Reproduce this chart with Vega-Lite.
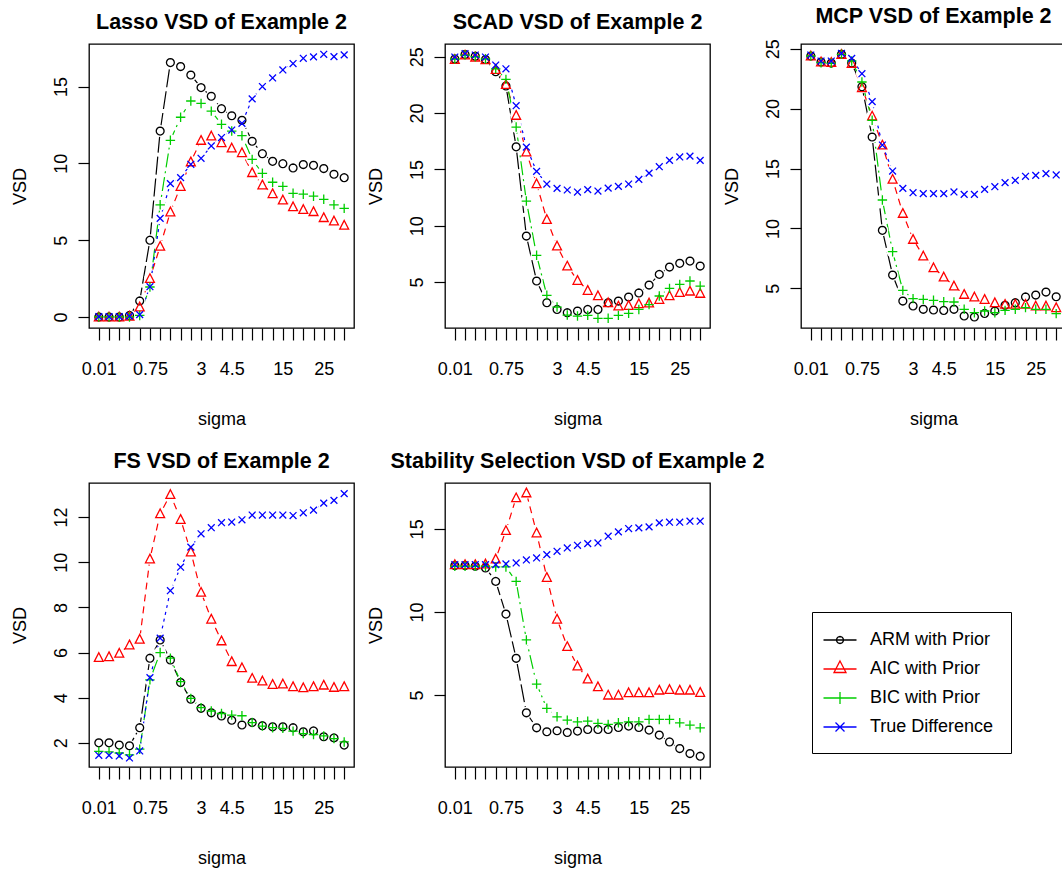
{
"$schema": "https://vega.github.io/schema/vega-lite/v6.json",
"padding": {"left": 10, "top": 5, "right": 0, "bottom": 0},
"background": "white",
"datasets": {"d": [
{"p":"Lasso","i":1,"ARM with Prior":0,"AIC with Prior":0,"BIC with Prior":0,"True Difference":0.02},
{"p":"Lasso","i":2,"ARM with Prior":0,"AIC with Prior":0,"BIC with Prior":0,"True Difference":0.02},
{"p":"Lasso","i":3,"ARM with Prior":0,"AIC with Prior":0,"BIC with Prior":0,"True Difference":0.02},
{"p":"Lasso","i":4,"ARM with Prior":0.1,"AIC with Prior":0.05,"BIC with Prior":0,"True Difference":0.05},
{"p":"Lasso","i":5,"ARM with Prior":1.04,"AIC with Prior":0.65,"BIC with Prior":0.1,"True Difference":0.15},
{"p":"Lasso","i":6,"ARM with Prior":5.0,"AIC with Prior":2.5,"BIC with Prior":1.95,"True Difference":1.97},
{"p":"Lasso","i":7,"ARM with Prior":12.1,"AIC with Prior":4.6,"BIC with Prior":7.3,"True Difference":6.42},
{"p":"Lasso","i":8,"ARM with Prior":16.56,"AIC with Prior":6.84,"BIC with Prior":11.5,"True Difference":8.68},
{"p":"Lasso","i":9,"ARM with Prior":16.3,"AIC with Prior":8.5,"BIC with Prior":13.0,"True Difference":9.07},
{"p":"Lasso","i":10,"ARM with Prior":15.75,"AIC with Prior":10.1,"BIC with Prior":14.06,"True Difference":9.94},
{"p":"Lasso","i":11,"ARM with Prior":14.93,"AIC with Prior":11.5,"BIC with Prior":13.9,"True Difference":10.33},
{"p":"Lasso","i":12,"ARM with Prior":14.37,"AIC with Prior":11.78,"BIC with Prior":13.4,"True Difference":11.13},
{"p":"Lasso","i":13,"ARM with Prior":13.56,"AIC with Prior":11.35,"BIC with Prior":12.54,"True Difference":11.68},
{"p":"Lasso","i":14,"ARM with Prior":13.1,"AIC with Prior":11.0,"BIC with Prior":12.1,"True Difference":12.17},
{"p":"Lasso","i":15,"ARM with Prior":12.8,"AIC with Prior":10.7,"BIC with Prior":11.8,"True Difference":12.6},
{"p":"Lasso","i":16,"ARM with Prior":11.44,"AIC with Prior":9.4,"BIC with Prior":10.26,"True Difference":14.2},
{"p":"Lasso","i":17,"ARM with Prior":10.63,"AIC with Prior":8.6,"BIC with Prior":9.35,"True Difference":15.0},
{"p":"Lasso","i":18,"ARM with Prior":10.13,"AIC with Prior":8.03,"BIC with Prior":8.77,"True Difference":15.56},
{"p":"Lasso","i":19,"ARM with Prior":9.98,"AIC with Prior":7.62,"BIC with Prior":8.5,"True Difference":16.08},
{"p":"Lasso","i":20,"ARM with Prior":9.7,"AIC with Prior":7.18,"BIC with Prior":8.05,"True Difference":16.5},
{"p":"Lasso","i":21,"ARM with Prior":9.92,"AIC with Prior":7.0,"BIC with Prior":7.99,"True Difference":16.84},
{"p":"Lasso","i":22,"ARM with Prior":9.87,"AIC with Prior":6.86,"BIC with Prior":7.86,"True Difference":16.93},
{"p":"Lasso","i":23,"ARM with Prior":9.66,"AIC with Prior":6.47,"BIC with Prior":7.66,"True Difference":17.1},
{"p":"Lasso","i":24,"ARM with Prior":9.29,"AIC with Prior":6.25,"BIC with Prior":7.3,"True Difference":16.95},
{"p":"Lasso","i":25,"ARM with Prior":9.07,"AIC with Prior":5.97,"BIC with Prior":7.07,"True Difference":17.06},
{"p":"SCAD","i":1,"ARM with Prior":24.8,"AIC with Prior":24.76,"BIC with Prior":24.8,"True Difference":24.97},
{"p":"SCAD","i":2,"ARM with Prior":25.2,"AIC with Prior":25.15,"BIC with Prior":25.15,"True Difference":25.27},
{"p":"SCAD","i":3,"ARM with Prior":25.05,"AIC with Prior":24.97,"BIC with Prior":25.0,"True Difference":25.15},
{"p":"SCAD","i":4,"ARM with Prior":24.76,"AIC with Prior":24.73,"BIC with Prior":24.8,"True Difference":24.97},
{"p":"SCAD","i":5,"ARM with Prior":23.67,"AIC with Prior":23.88,"BIC with Prior":23.93,"True Difference":24.26},
{"p":"SCAD","i":6,"ARM with Prior":22.4,"AIC with Prior":22.54,"BIC with Prior":22.99,"True Difference":23.93},
{"p":"SCAD","i":7,"ARM with Prior":17.0,"AIC with Prior":19.8,"BIC with Prior":18.76,"True Difference":20.65},
{"p":"SCAD","i":8,"ARM with Prior":9.08,"AIC with Prior":16.54,"BIC with Prior":12.19,"True Difference":16.98},
{"p":"SCAD","i":9,"ARM with Prior":5.09,"AIC with Prior":13.73,"BIC with Prior":7.37,"True Difference":14.82},
{"p":"SCAD","i":10,"ARM with Prior":3.17,"AIC with Prior":10.56,"BIC with Prior":3.82,"True Difference":13.7},
{"p":"SCAD","i":11,"ARM with Prior":2.57,"AIC with Prior":8.2,"BIC with Prior":2.78,"True Difference":13.31},
{"p":"SCAD","i":12,"ARM with Prior":2.28,"AIC with Prior":6.42,"BIC with Prior":2.07,"True Difference":13.17},
{"p":"SCAD","i":13,"ARM with Prior":2.43,"AIC with Prior":5.15,"BIC with Prior":1.98,"True Difference":12.99},
{"p":"SCAD","i":14,"ARM with Prior":2.57,"AIC with Prior":4.26,"BIC with Prior":2.04,"True Difference":13.2},
{"p":"SCAD","i":15,"ARM with Prior":2.57,"AIC with Prior":3.79,"BIC with Prior":1.78,"True Difference":13.08},
{"p":"SCAD","i":16,"ARM with Prior":3.17,"AIC with Prior":3.17,"BIC with Prior":1.78,"True Difference":13.34},
{"p":"SCAD","i":17,"ARM with Prior":3.31,"AIC with Prior":2.87,"BIC with Prior":2.04,"True Difference":13.49},
{"p":"SCAD","i":18,"ARM with Prior":3.67,"AIC with Prior":2.93,"BIC with Prior":2.22,"True Difference":13.7},
{"p":"SCAD","i":19,"ARM with Prior":4.03,"AIC with Prior":3.08,"BIC with Prior":2.57,"True Difference":14.11},
{"p":"SCAD","i":20,"ARM with Prior":4.73,"AIC with Prior":3.14,"BIC with Prior":3.0,"True Difference":14.67},
{"p":"SCAD","i":21,"ARM with Prior":5.68,"AIC with Prior":3.46,"BIC with Prior":3.76,"True Difference":15.24},
{"p":"SCAD","i":22,"ARM with Prior":6.33,"AIC with Prior":3.79,"BIC with Prior":4.44,"True Difference":15.8},
{"p":"SCAD","i":23,"ARM with Prior":6.66,"AIC with Prior":4.08,"BIC with Prior":4.79,"True Difference":16.1},
{"p":"SCAD","i":24,"ARM with Prior":6.86,"AIC with Prior":4.2,"BIC with Prior":5.09,"True Difference":16.18},
{"p":"SCAD","i":25,"ARM with Prior":6.42,"AIC with Prior":4.0,"BIC with Prior":4.64,"True Difference":15.8},
{"p":"MCP","i":1,"ARM with Prior":24.39,"AIC with Prior":24.39,"BIC with Prior":24.39,"True Difference":24.47},
{"p":"MCP","i":2,"ARM with Prior":23.89,"AIC with Prior":23.9,"BIC with Prior":23.83,"True Difference":23.97},
{"p":"MCP","i":3,"ARM with Prior":23.8,"AIC with Prior":23.86,"BIC with Prior":23.78,"True Difference":23.97},
{"p":"MCP","i":4,"ARM with Prior":24.53,"AIC with Prior":24.53,"BIC with Prior":24.53,"True Difference":24.61},
{"p":"MCP","i":5,"ARM with Prior":23.8,"AIC with Prior":23.78,"BIC with Prior":23.97,"True Difference":24.19},
{"p":"MCP","i":6,"ARM with Prior":21.83,"AIC with Prior":21.75,"BIC with Prior":22.22,"True Difference":22.91},
{"p":"MCP","i":7,"ARM with Prior":17.63,"AIC with Prior":19.38,"BIC with Prior":19.02,"True Difference":20.58},
{"p":"MCP","i":8,"ARM with Prior":9.84,"AIC with Prior":16.96,"BIC with Prior":12.37,"True Difference":16.96},
{"p":"MCP","i":9,"ARM with Prior":6.11,"AIC with Prior":14.1,"BIC with Prior":8.06,"True Difference":14.79},
{"p":"MCP","i":10,"ARM with Prior":3.94,"AIC with Prior":11.26,"BIC with Prior":4.83,"True Difference":13.34},
{"p":"MCP","i":11,"ARM with Prior":3.53,"AIC with Prior":9.09,"BIC with Prior":4.14,"True Difference":12.98},
{"p":"MCP","i":12,"ARM with Prior":3.25,"AIC with Prior":7.7,"BIC with Prior":4.08,"True Difference":12.9},
{"p":"MCP","i":13,"ARM with Prior":3.19,"AIC with Prior":6.72,"BIC with Prior":4.0,"True Difference":12.9},
{"p":"MCP","i":14,"ARM with Prior":3.16,"AIC with Prior":5.95,"BIC with Prior":3.89,"True Difference":12.9},
{"p":"MCP","i":15,"ARM with Prior":3.25,"AIC with Prior":5.2,"BIC with Prior":3.86,"True Difference":13.04},
{"p":"MCP","i":16,"ARM with Prior":2.69,"AIC with Prior":4.5,"BIC with Prior":3.25,"True Difference":12.84},
{"p":"MCP","i":17,"ARM with Prior":2.61,"AIC with Prior":4.28,"BIC with Prior":2.97,"True Difference":12.84},
{"p":"MCP","i":18,"ARM with Prior":2.91,"AIC with Prior":4.08,"BIC with Prior":3.11,"True Difference":13.26},
{"p":"MCP","i":19,"ARM with Prior":3.11,"AIC with Prior":3.8,"BIC with Prior":2.97,"True Difference":13.48},
{"p":"MCP","i":20,"ARM with Prior":3.58,"AIC with Prior":3.67,"BIC with Prior":3.16,"True Difference":13.82},
{"p":"MCP","i":21,"ARM with Prior":3.8,"AIC with Prior":3.67,"BIC with Prior":3.25,"True Difference":14.01},
{"p":"MCP","i":22,"ARM with Prior":4.28,"AIC with Prior":3.67,"BIC with Prior":3.39,"True Difference":14.35},
{"p":"MCP","i":23,"ARM with Prior":4.44,"AIC with Prior":3.53,"BIC with Prior":3.25,"True Difference":14.43},
{"p":"MCP","i":24,"ARM with Prior":4.69,"AIC with Prior":3.53,"BIC with Prior":3.25,"True Difference":14.57},
{"p":"MCP","i":25,"ARM with Prior":4.3,"AIC with Prior":3.39,"BIC with Prior":2.89,"True Difference":14.46},
{"p":"FS","i":1,"ARM with Prior":2.0,"AIC with Prior":5.78,"BIC with Prior":1.62,"True Difference":1.45},
{"p":"FS","i":2,"ARM with Prior":2.0,"AIC with Prior":5.82,"BIC with Prior":1.6,"True Difference":1.45},
{"p":"FS","i":3,"ARM with Prior":1.9,"AIC with Prior":5.97,"BIC with Prior":1.55,"True Difference":1.42},
{"p":"FS","i":4,"ARM with Prior":1.87,"AIC with Prior":6.34,"BIC with Prior":1.47,"True Difference":1.33},
{"p":"FS","i":5,"ARM with Prior":2.67,"AIC with Prior":6.59,"BIC with Prior":1.72,"True Difference":1.64},
{"p":"FS","i":6,"ARM with Prior":5.75,"AIC with Prior":10.15,"BIC with Prior":4.79,"True Difference":4.89},
{"p":"FS","i":7,"ARM with Prior":6.56,"AIC with Prior":12.15,"BIC with Prior":6.0,"True Difference":6.64},
{"p":"FS","i":8,"ARM with Prior":5.67,"AIC with Prior":13.0,"BIC with Prior":5.75,"True Difference":8.74},
{"p":"FS","i":9,"ARM with Prior":4.67,"AIC with Prior":11.9,"BIC with Prior":4.71,"True Difference":9.78},
{"p":"FS","i":10,"ARM with Prior":3.93,"AIC with Prior":10.46,"BIC with Prior":3.97,"True Difference":10.67},
{"p":"FS","i":11,"ARM with Prior":3.53,"AIC with Prior":8.67,"BIC with Prior":3.56,"True Difference":11.26},
{"p":"FS","i":12,"ARM with Prior":3.33,"AIC with Prior":7.48,"BIC with Prior":3.41,"True Difference":11.53},
{"p":"FS","i":13,"ARM with Prior":3.19,"AIC with Prior":6.52,"BIC with Prior":3.3,"True Difference":11.75},
{"p":"FS","i":14,"ARM with Prior":3.0,"AIC with Prior":5.6,"BIC with Prior":3.23,"True Difference":11.78},
{"p":"FS","i":15,"ARM with Prior":2.79,"AIC with Prior":5.33,"BIC with Prior":3.2,"True Difference":11.88},
{"p":"FS","i":16,"ARM with Prior":2.9,"AIC with Prior":4.86,"BIC with Prior":2.9,"True Difference":12.09},
{"p":"FS","i":17,"ARM with Prior":2.76,"AIC with Prior":4.74,"BIC with Prior":2.74,"True Difference":12.09},
{"p":"FS","i":18,"ARM with Prior":2.71,"AIC with Prior":4.59,"BIC with Prior":2.67,"True Difference":12.09},
{"p":"FS","i":19,"ARM with Prior":2.71,"AIC with Prior":4.61,"BIC with Prior":2.64,"True Difference":12.09},
{"p":"FS","i":20,"ARM with Prior":2.67,"AIC with Prior":4.49,"BIC with Prior":2.52,"True Difference":12.07},
{"p":"FS","i":21,"ARM with Prior":2.49,"AIC with Prior":4.44,"BIC with Prior":2.41,"True Difference":12.19},
{"p":"FS","i":22,"ARM with Prior":2.53,"AIC with Prior":4.49,"BIC with Prior":2.37,"True Difference":12.31},
{"p":"FS","i":23,"ARM with Prior":2.27,"AIC with Prior":4.56,"BIC with Prior":2.31,"True Difference":12.62},
{"p":"FS","i":24,"ARM with Prior":2.22,"AIC with Prior":4.46,"BIC with Prior":2.19,"True Difference":12.74},
{"p":"FS","i":25,"ARM with Prior":1.9,"AIC with Prior":4.49,"BIC with Prior":2.04,"True Difference":13.04},
{"p":"Stability","i":1,"ARM with Prior":12.79,"AIC with Prior":12.85,"BIC with Prior":12.75,"True Difference":12.85},
{"p":"Stability","i":2,"ARM with Prior":12.79,"AIC with Prior":12.85,"BIC with Prior":12.75,"True Difference":12.85},
{"p":"Stability","i":3,"ARM with Prior":12.75,"AIC with Prior":12.85,"BIC with Prior":12.75,"True Difference":12.85},
{"p":"Stability","i":4,"ARM with Prior":12.65,"AIC with Prior":12.89,"BIC with Prior":12.75,"True Difference":12.85},
{"p":"Stability","i":5,"ARM with Prior":11.84,"AIC with Prior":13.19,"BIC with Prior":12.71,"True Difference":12.85},
{"p":"Stability","i":6,"ARM with Prior":9.87,"AIC with Prior":14.9,"BIC with Prior":12.71,"True Difference":12.89},
{"p":"Stability","i":7,"ARM with Prior":7.21,"AIC with Prior":16.87,"BIC with Prior":11.84,"True Difference":12.95},
{"p":"Stability","i":8,"ARM with Prior":3.93,"AIC with Prior":17.17,"BIC with Prior":8.32,"True Difference":13.13},
{"p":"Stability","i":9,"ARM with Prior":3.03,"AIC with Prior":14.76,"BIC with Prior":5.66,"True Difference":13.25},
{"p":"Stability","i":10,"ARM with Prior":2.79,"AIC with Prior":12.08,"BIC with Prior":4.2,"True Difference":13.45},
{"p":"Stability","i":11,"ARM with Prior":2.85,"AIC with Prior":9.57,"BIC with Prior":3.69,"True Difference":13.65},
{"p":"Stability","i":12,"ARM with Prior":2.75,"AIC with Prior":7.92,"BIC with Prior":3.49,"True Difference":13.85},
{"p":"Stability","i":13,"ARM with Prior":2.83,"AIC with Prior":6.75,"BIC with Prior":3.39,"True Difference":14.01},
{"p":"Stability","i":14,"ARM with Prior":2.93,"AIC with Prior":5.97,"BIC with Prior":3.43,"True Difference":14.11},
{"p":"Stability","i":15,"ARM with Prior":2.93,"AIC with Prior":5.5,"BIC with Prior":3.29,"True Difference":14.15},
{"p":"Stability","i":16,"ARM with Prior":2.93,"AIC with Prior":5.0,"BIC with Prior":3.23,"True Difference":14.56},
{"p":"Stability","i":17,"ARM with Prior":3.05,"AIC with Prior":5.0,"BIC with Prior":3.33,"True Difference":14.82},
{"p":"Stability","i":18,"ARM with Prior":3.13,"AIC with Prior":5.14,"BIC with Prior":3.39,"True Difference":15.02},
{"p":"Stability","i":19,"ARM with Prior":3.05,"AIC with Prior":5.14,"BIC with Prior":3.39,"True Difference":15.06},
{"p":"Stability","i":20,"ARM with Prior":2.89,"AIC with Prior":5.14,"BIC with Prior":3.53,"True Difference":15.12},
{"p":"Stability","i":21,"ARM with Prior":2.59,"AIC with Prior":5.3,"BIC with Prior":3.53,"True Difference":15.36},
{"p":"Stability","i":22,"ARM with Prior":2.18,"AIC with Prior":5.34,"BIC with Prior":3.53,"True Difference":15.4},
{"p":"Stability","i":23,"ARM with Prior":1.78,"AIC with Prior":5.3,"BIC with Prior":3.33,"True Difference":15.4},
{"p":"Stability","i":24,"ARM with Prior":1.48,"AIC with Prior":5.3,"BIC with Prior":3.19,"True Difference":15.46},
{"p":"Stability","i":25,"ARM with Prior":1.32,"AIC with Prior":5.16,"BIC with Prior":3.03,"True Difference":15.46}
]},
"data": {"name": "d"},
"columns": 3,
"spacing": {"row": 155, "column": 91},
"bounds": "flush",
"resolve": {"scale": {"x": "independent", "y": "independent", "color": "shared", "shape": "shared"}},
"concat": [
{"title": "Lasso VSD of Example 2", "width": 265, "height": 284,
 "transform": [{"filter": "datum.p === 'Lasso'"}, {"fold": ["ARM with Prior", "AIC with Prior", "BIC with Prior", "True Difference"], "as": ["series", "vsd"]}],
 "encoding": {
  "x": {"field": "i", "type": "quantitative", "scale": {"domain": [0.04, 25.96], "nice": false, "zero": false}, "axis": {"values": [1,2,3,4,5,6,7,8,9,10,11,12,13,14,15,16,17,18,19,20,21,22,23,24,25], "labelExpr": "datum.value == 1 ? '0.01' : datum.value == 6 ? '0.75' : datum.value == 11 ? '3' : datum.value == 14 ? '4.5' : datum.value == 19 ? '15' : datum.value == 23 ? '25' : ''", "title": "sigma"}},
  "y": {"field": "vsd", "type": "quantitative", "scale": {"domain": [-0.72, 17.77], "nice": false, "zero": false}, "axis": {"values": [0, 5, 10, 15], "title": "VSD"}}
 },
 "layer": [
  {"transform": [{"filter": "datum.series === 'ARM with Prior'"}], "mark": {"type": "line", "color": "#000000", "strokeWidth": 1.2, "strokeDash": [18, 4]}, "encoding": {}},
  {"transform": [{"filter": "datum.series === 'AIC with Prior'"}], "mark": {"type": "line", "color": "#FF0000", "strokeWidth": 1.2, "strokeDash": [7, 5]}, "encoding": {}},
  {"transform": [{"filter": "datum.series === 'BIC with Prior'"}], "mark": {"type": "line", "color": "#00CD00", "strokeWidth": 1.2, "strokeDash": [14, 4, 2, 4]}, "encoding": {}},
  {"transform": [{"filter": "datum.series === 'True Difference'"}], "mark": {"type": "line", "color": "#0000FF", "strokeWidth": 1.2, "strokeDash": [3, 4]}, "encoding": {}},
  {"mark": {"type": "point", "filled": true, "color": "white", "opacity": 1, "size": 144, "shape": "circle", "strokeWidth": 0}, "encoding": {}},
  {"transform": [{"filter": "datum.series === 'ARM with Prior'"}], "mark": {"type": "point", "filled": false, "opacity": 1, "strokeWidth": 1.3, "size": 110, "color": "#000000", "shape": "M0.75,0L0.693,0.287L0.53,0.53L0.287,0.693L0,0.75L-0.287,0.693L-0.53,0.53L-0.693,0.287L-0.75,0L-0.693,-0.287L-0.53,-0.53L-0.287,-0.693L0,-0.75L0.287,-0.693L0.53,-0.53L0.693,-0.287Z"}, "encoding": {}},
  {"transform": [{"filter": "datum.series === 'AIC with Prior'"}], "mark": {"type": "point", "filled": false, "opacity": 1, "strokeWidth": 1.3, "size": 110, "color": "#FF0000", "shape": "M0,-0.9L0.85,0.75L-0.85,0.75Z"}, "encoding": {}},
  {"transform": [{"filter": "datum.series === 'BIC with Prior'"}], "mark": {"type": "point", "filled": false, "opacity": 1, "strokeWidth": 1.3, "size": 110, "color": "#00CD00", "shape": "M-0.9,0H0.9M0,-0.9V0.9"}, "encoding": {}},
  {"transform": [{"filter": "datum.series === 'True Difference'"}], "mark": {"type": "point", "filled": false, "opacity": 1, "strokeWidth": 1.3, "size": 110, "color": "#0000FF", "shape": "M-0.65,-0.65L0.65,0.65M-0.65,0.65L0.65,-0.65"}, "encoding": {}},
  {"mark": {"type": "point", "filled": false, "opacity": 0, "size": 1}, "encoding": {
    "color": {"field": "series", "type": "nominal", "scale": {"domain": ["ARM with Prior", "AIC with Prior", "BIC with Prior", "True Difference"], "range": ["#000000", "#FF0000", "#00CD00", "#0000FF"]},
      "legend": {"title": null, "orient": "none", "legendX": 723, "legendY": 568, "strokeColor": "black", "padding": 17, "symbolSize": 400, "symbolOpacity": 1, "symbolStrokeWidth": 1.3, "labelFont": "Liberation Sans", "labelFontSize": 18, "labelColor": "black", "labelOffset": 19, "rowPadding": 9, "labelLimit": 0}},
    "shape": {"field": "series", "type": "nominal", "scale": {"domain": ["ARM with Prior", "AIC with Prior", "BIC with Prior", "True Difference"], "range": ["M-1.65,0H1.65M0.35,0L0.323,0.134L0.247,0.247L0.134,0.323L0,0.35L-0.134,0.323L-0.247,0.247L-0.323,0.134L-0.35,0L-0.323,-0.134L-0.247,-0.247L-0.134,-0.323L0,-0.35L0.134,-0.323L0.247,-0.247L0.323,-0.134Z", "M-1.65,0H1.65M0,-0.8L0.6,0.35L-0.6,0.35Z", "M-1.65,0H1.65M0,-0.6V0.6", "M-1.65,0H1.65M-0.45,-0.45L0.45,0.45M-0.45,0.45L0.45,-0.45"]},
      "legend": {"title": null, "orient": "none", "legendX": 723, "legendY": 568, "strokeColor": "black", "padding": 17, "symbolSize": 400, "symbolOpacity": 1, "symbolStrokeWidth": 1.3, "labelFont": "Liberation Sans", "labelFontSize": 18, "labelColor": "black", "labelOffset": 19, "rowPadding": 9, "labelLimit": 0}}
  }}
 ]},
{"title": "SCAD VSD of Example 2", "width": 265, "height": 284,
 "transform": [{"filter": "datum.p === 'SCAD'"}, {"fold": ["ARM with Prior", "AIC with Prior", "BIC with Prior", "True Difference"], "as": ["series", "vsd"]}],
 "encoding": {
  "x": {"field": "i", "type": "quantitative", "scale": {"domain": [0.04, 25.96], "nice": false, "zero": false}, "axis": {"values": [1,2,3,4,5,6,7,8,9,10,11,12,13,14,15,16,17,18,19,20,21,22,23,24,25], "labelExpr": "datum.value == 1 ? '0.01' : datum.value == 6 ? '0.75' : datum.value == 11 ? '3' : datum.value == 14 ? '4.5' : datum.value == 19 ? '15' : datum.value == 23 ? '25' : ''", "title": "sigma"}},
  "y": {"field": "vsd", "type": "quantitative", "scale": {"domain": [0.92, 26.13], "nice": false, "zero": false}, "axis": {"values": [5, 10, 15, 20, 25], "title": "VSD"}}
 },
 "layer": [
  {"transform": [{"filter": "datum.series === 'ARM with Prior'"}], "mark": {"type": "line", "color": "#000000", "strokeWidth": 1.2, "strokeDash": [18, 4]}, "encoding": {}},
  {"transform": [{"filter": "datum.series === 'AIC with Prior'"}], "mark": {"type": "line", "color": "#FF0000", "strokeWidth": 1.2, "strokeDash": [7, 5]}, "encoding": {}},
  {"transform": [{"filter": "datum.series === 'BIC with Prior'"}], "mark": {"type": "line", "color": "#00CD00", "strokeWidth": 1.2, "strokeDash": [14, 4, 2, 4]}, "encoding": {}},
  {"transform": [{"filter": "datum.series === 'True Difference'"}], "mark": {"type": "line", "color": "#0000FF", "strokeWidth": 1.2, "strokeDash": [3, 4]}, "encoding": {}},
  {"mark": {"type": "point", "filled": true, "color": "white", "opacity": 1, "size": 144, "shape": "circle", "strokeWidth": 0}, "encoding": {}},
  {"transform": [{"filter": "datum.series === 'ARM with Prior'"}], "mark": {"type": "point", "filled": false, "opacity": 1, "strokeWidth": 1.3, "size": 110, "color": "#000000", "shape": "M0.75,0L0.693,0.287L0.53,0.53L0.287,0.693L0,0.75L-0.287,0.693L-0.53,0.53L-0.693,0.287L-0.75,0L-0.693,-0.287L-0.53,-0.53L-0.287,-0.693L0,-0.75L0.287,-0.693L0.53,-0.53L0.693,-0.287Z"}, "encoding": {}},
  {"transform": [{"filter": "datum.series === 'AIC with Prior'"}], "mark": {"type": "point", "filled": false, "opacity": 1, "strokeWidth": 1.3, "size": 110, "color": "#FF0000", "shape": "M0,-0.9L0.85,0.75L-0.85,0.75Z"}, "encoding": {}},
  {"transform": [{"filter": "datum.series === 'BIC with Prior'"}], "mark": {"type": "point", "filled": false, "opacity": 1, "strokeWidth": 1.3, "size": 110, "color": "#00CD00", "shape": "M-0.9,0H0.9M0,-0.9V0.9"}, "encoding": {}},
  {"transform": [{"filter": "datum.series === 'True Difference'"}], "mark": {"type": "point", "filled": false, "opacity": 1, "strokeWidth": 1.3, "size": 110, "color": "#0000FF", "shape": "M-0.65,-0.65L0.65,0.65M-0.65,0.65L0.65,-0.65"}, "encoding": {}}
 ]},
{"title": "MCP VSD of Example 2", "width": 265, "height": 284,
 "transform": [{"filter": "datum.p === 'MCP'"}, {"fold": ["ARM with Prior", "AIC with Prior", "BIC with Prior", "True Difference"], "as": ["series", "vsd"]}],
 "encoding": {
  "x": {"field": "i", "type": "quantitative", "scale": {"domain": [0.04, 25.96], "nice": false, "zero": false}, "axis": {"values": [1,2,3,4,5,6,7,8,9,10,11,12,13,14,15,16,17,18,19,20,21,22,23,24,25], "labelExpr": "datum.value == 1 ? '0.01' : datum.value == 6 ? '0.75' : datum.value == 11 ? '3' : datum.value == 14 ? '4.5' : datum.value == 19 ? '15' : datum.value == 23 ? '25' : ''", "title": "sigma"}},
  "y": {"field": "vsd", "type": "quantitative", "scale": {"domain": [1.69, 25.39], "nice": false, "zero": false}, "axis": {"values": [5, 10, 15, 20, 25], "title": "VSD"}}
 },
 "layer": [
  {"transform": [{"filter": "datum.series === 'ARM with Prior'"}], "mark": {"type": "line", "color": "#000000", "strokeWidth": 1.2, "strokeDash": [18, 4]}, "encoding": {}},
  {"transform": [{"filter": "datum.series === 'AIC with Prior'"}], "mark": {"type": "line", "color": "#FF0000", "strokeWidth": 1.2, "strokeDash": [7, 5]}, "encoding": {}},
  {"transform": [{"filter": "datum.series === 'BIC with Prior'"}], "mark": {"type": "line", "color": "#00CD00", "strokeWidth": 1.2, "strokeDash": [14, 4, 2, 4]}, "encoding": {}},
  {"transform": [{"filter": "datum.series === 'True Difference'"}], "mark": {"type": "line", "color": "#0000FF", "strokeWidth": 1.2, "strokeDash": [3, 4]}, "encoding": {}},
  {"mark": {"type": "point", "filled": true, "color": "white", "opacity": 1, "size": 144, "shape": "circle", "strokeWidth": 0}, "encoding": {}},
  {"transform": [{"filter": "datum.series === 'ARM with Prior'"}], "mark": {"type": "point", "filled": false, "opacity": 1, "strokeWidth": 1.3, "size": 110, "color": "#000000", "shape": "M0.75,0L0.693,0.287L0.53,0.53L0.287,0.693L0,0.75L-0.287,0.693L-0.53,0.53L-0.693,0.287L-0.75,0L-0.693,-0.287L-0.53,-0.53L-0.287,-0.693L0,-0.75L0.287,-0.693L0.53,-0.53L0.693,-0.287Z"}, "encoding": {}},
  {"transform": [{"filter": "datum.series === 'AIC with Prior'"}], "mark": {"type": "point", "filled": false, "opacity": 1, "strokeWidth": 1.3, "size": 110, "color": "#FF0000", "shape": "M0,-0.9L0.85,0.75L-0.85,0.75Z"}, "encoding": {}},
  {"transform": [{"filter": "datum.series === 'BIC with Prior'"}], "mark": {"type": "point", "filled": false, "opacity": 1, "strokeWidth": 1.3, "size": 110, "color": "#00CD00", "shape": "M-0.9,0H0.9M0,-0.9V0.9"}, "encoding": {}},
  {"transform": [{"filter": "datum.series === 'True Difference'"}], "mark": {"type": "point", "filled": false, "opacity": 1, "strokeWidth": 1.3, "size": 110, "color": "#0000FF", "shape": "M-0.65,-0.65L0.65,0.65M-0.65,0.65L0.65,-0.65"}, "encoding": {}}
 ]},
{"title": "FS VSD of Example 2", "width": 265, "height": 284,
 "transform": [{"filter": "datum.p === 'FS'"}, {"fold": ["ARM with Prior", "AIC with Prior", "BIC with Prior", "True Difference"], "as": ["series", "vsd"]}],
 "encoding": {
  "x": {"field": "i", "type": "quantitative", "scale": {"domain": [0.04, 25.96], "nice": false, "zero": false}, "axis": {"values": [1,2,3,4,5,6,7,8,9,10,11,12,13,14,15,16,17,18,19,20,21,22,23,24,25], "labelExpr": "datum.value == 1 ? '0.01' : datum.value == 6 ? '0.75' : datum.value == 11 ? '3' : datum.value == 14 ? '4.5' : datum.value == 19 ? '15' : datum.value == 23 ? '25' : ''", "title": "sigma"}},
  "y": {"field": "vsd", "type": "quantitative", "scale": {"domain": [0.93, 13.51], "nice": false, "zero": false}, "axis": {"values": [2, 4, 6, 8, 10, 12], "title": "VSD"}}
 },
 "layer": [
  {"transform": [{"filter": "datum.series === 'ARM with Prior'"}], "mark": {"type": "line", "color": "#000000", "strokeWidth": 1.2, "strokeDash": [18, 4]}, "encoding": {}},
  {"transform": [{"filter": "datum.series === 'AIC with Prior'"}], "mark": {"type": "line", "color": "#FF0000", "strokeWidth": 1.2, "strokeDash": [7, 5]}, "encoding": {}},
  {"transform": [{"filter": "datum.series === 'BIC with Prior'"}], "mark": {"type": "line", "color": "#00CD00", "strokeWidth": 1.2, "strokeDash": [14, 4, 2, 4]}, "encoding": {}},
  {"transform": [{"filter": "datum.series === 'True Difference'"}], "mark": {"type": "line", "color": "#0000FF", "strokeWidth": 1.2, "strokeDash": [3, 4]}, "encoding": {}},
  {"mark": {"type": "point", "filled": true, "color": "white", "opacity": 1, "size": 144, "shape": "circle", "strokeWidth": 0}, "encoding": {}},
  {"transform": [{"filter": "datum.series === 'ARM with Prior'"}], "mark": {"type": "point", "filled": false, "opacity": 1, "strokeWidth": 1.3, "size": 110, "color": "#000000", "shape": "M0.75,0L0.693,0.287L0.53,0.53L0.287,0.693L0,0.75L-0.287,0.693L-0.53,0.53L-0.693,0.287L-0.75,0L-0.693,-0.287L-0.53,-0.53L-0.287,-0.693L0,-0.75L0.287,-0.693L0.53,-0.53L0.693,-0.287Z"}, "encoding": {}},
  {"transform": [{"filter": "datum.series === 'AIC with Prior'"}], "mark": {"type": "point", "filled": false, "opacity": 1, "strokeWidth": 1.3, "size": 110, "color": "#FF0000", "shape": "M0,-0.9L0.85,0.75L-0.85,0.75Z"}, "encoding": {}},
  {"transform": [{"filter": "datum.series === 'BIC with Prior'"}], "mark": {"type": "point", "filled": false, "opacity": 1, "strokeWidth": 1.3, "size": 110, "color": "#00CD00", "shape": "M-0.9,0H0.9M0,-0.9V0.9"}, "encoding": {}},
  {"transform": [{"filter": "datum.series === 'True Difference'"}], "mark": {"type": "point", "filled": false, "opacity": 1, "strokeWidth": 1.3, "size": 110, "color": "#0000FF", "shape": "M-0.65,-0.65L0.65,0.65M-0.65,0.65L0.65,-0.65"}, "encoding": {}}
 ]},
{"title": "Stability Selection VSD of Example 2", "width": 265, "height": 284,
 "transform": [{"filter": "datum.p === 'Stability'"}, {"fold": ["ARM with Prior", "AIC with Prior", "BIC with Prior", "True Difference"], "as": ["series", "vsd"]}],
 "encoding": {
  "x": {"field": "i", "type": "quantitative", "scale": {"domain": [0.04, 25.96], "nice": false, "zero": false}, "axis": {"values": [1,2,3,4,5,6,7,8,9,10,11,12,13,14,15,16,17,18,19,20,21,22,23,24,25], "labelExpr": "datum.value == 1 ? '0.01' : datum.value == 6 ? '0.75' : datum.value == 11 ? '3' : datum.value == 14 ? '4.5' : datum.value == 19 ? '15' : datum.value == 23 ? '25' : ''", "title": "sigma"}},
  "y": {"field": "vsd", "type": "quantitative", "scale": {"domain": [0.67, 17.76], "nice": false, "zero": false}, "axis": {"values": [5, 10, 15], "title": "VSD"}}
 },
 "layer": [
  {"transform": [{"filter": "datum.series === 'ARM with Prior'"}], "mark": {"type": "line", "color": "#000000", "strokeWidth": 1.2, "strokeDash": [18, 4]}, "encoding": {}},
  {"transform": [{"filter": "datum.series === 'AIC with Prior'"}], "mark": {"type": "line", "color": "#FF0000", "strokeWidth": 1.2, "strokeDash": [7, 5]}, "encoding": {}},
  {"transform": [{"filter": "datum.series === 'BIC with Prior'"}], "mark": {"type": "line", "color": "#00CD00", "strokeWidth": 1.2, "strokeDash": [14, 4, 2, 4]}, "encoding": {}},
  {"transform": [{"filter": "datum.series === 'True Difference'"}], "mark": {"type": "line", "color": "#0000FF", "strokeWidth": 1.2, "strokeDash": [3, 4]}, "encoding": {}},
  {"mark": {"type": "point", "filled": true, "color": "white", "opacity": 1, "size": 144, "shape": "circle", "strokeWidth": 0}, "encoding": {}},
  {"transform": [{"filter": "datum.series === 'ARM with Prior'"}], "mark": {"type": "point", "filled": false, "opacity": 1, "strokeWidth": 1.3, "size": 110, "color": "#000000", "shape": "M0.75,0L0.693,0.287L0.53,0.53L0.287,0.693L0,0.75L-0.287,0.693L-0.53,0.53L-0.693,0.287L-0.75,0L-0.693,-0.287L-0.53,-0.53L-0.287,-0.693L0,-0.75L0.287,-0.693L0.53,-0.53L0.693,-0.287Z"}, "encoding": {}},
  {"transform": [{"filter": "datum.series === 'AIC with Prior'"}], "mark": {"type": "point", "filled": false, "opacity": 1, "strokeWidth": 1.3, "size": 110, "color": "#FF0000", "shape": "M0,-0.9L0.85,0.75L-0.85,0.75Z"}, "encoding": {}},
  {"transform": [{"filter": "datum.series === 'BIC with Prior'"}], "mark": {"type": "point", "filled": false, "opacity": 1, "strokeWidth": 1.3, "size": 110, "color": "#00CD00", "shape": "M-0.9,0H0.9M0,-0.9V0.9"}, "encoding": {}},
  {"transform": [{"filter": "datum.series === 'True Difference'"}], "mark": {"type": "point", "filled": false, "opacity": 1, "strokeWidth": 1.3, "size": 110, "color": "#0000FF", "shape": "M-0.65,-0.65L0.65,0.65M-0.65,0.65L0.65,-0.65"}, "encoding": {}}
 ]}
],
"config": {
 "view": {"stroke": "black", "strokeWidth": 1.3},
 "font": "Liberation Sans",
 "title": {"font": "Liberation Sans", "fontSize": 21.5, "fontWeight": "bold", "color": "black", "baseline": "alphabetic", "offset": 11, "anchor": "middle", "frame": "group"},
 "axis": {"grid": false, "domain": false, "tickColor": "black", "tickWidth": 1.2, "labelColor": "black", "titleColor": "black", "labelFont": "Liberation Sans", "labelFontSize": 18, "titleFont": "Liberation Sans", "titleFontSize": 18, "titleFontWeight": "normal", "labelFlush": false, "labelOverlap": false, "labelLimit": 0},
 "axisX": {"tickSize": 12, "labelBaseline": "alphabetic", "labelPadding": 34, "titleBaseline": "alphabetic", "titleX": 132.5, "titleY": 96, "titleAlign": "center"},
 "axisY": {"tickSize": 11, "labelAngle": -90, "labelAlign": "center", "labelBaseline": "alphabetic", "labelPadding": 12, "titleAngle": -90, "titleBaseline": "alphabetic", "titleAlign": "center", "titleX": -64, "titleY": 142}
}
}
